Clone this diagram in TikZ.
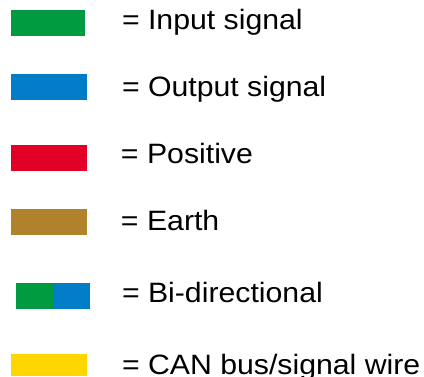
\documentclass[tikz,border=0pt]{standalone}
\usepackage{fontspec}
\setmainfont{Liberation Sans}[FakeStretch=1.08]
\definecolor{ingreen}{RGB}{0,155,64}
\definecolor{outblue}{RGB}{0,125,198}
\definecolor{posred}{RGB}{226,0,38}
\definecolor{earthbrown}{RGB}{176,130,44}
\definecolor{canyellow}{RGB}{255,214,0}
\begin{document}
\begin{tikzpicture}[x=1pt,y=-1pt,
  lbl/.style={anchor=base west,inner sep=0pt,outer sep=0pt,font=\fontsize{28}{34}\selectfont}]
\useasboundingbox (0,0) rectangle (424,376);
\fill[ingreen] (11,10) rectangle (85,36);
\fill[outblue] (11,74) rectangle (87,100);
\fill[posred] (11,145) rectangle (87,171);
\fill[earthbrown] (11,209) rectangle (87,235);
\fill[ingreen] (16,283) rectangle (53,309);
\fill[outblue] (53,283) rectangle (90,309);
\fill[canyellow] (11,354) rectangle (87,376);
\node[lbl] (t1) at (122,29) {= Input signal};
\node[lbl] (t2) at (122,96) {= Output signal};
\node[lbl] (t3) at (121,163) {= Positive};
\node[lbl] (t4) at (121,230) {= Earth};
\node[lbl] (t5) at (122,302) {= Bi-directional};
\node[lbl] (t6) at (122,374) {= CAN bus/signal wire};
\end{tikzpicture}
\end{document}
